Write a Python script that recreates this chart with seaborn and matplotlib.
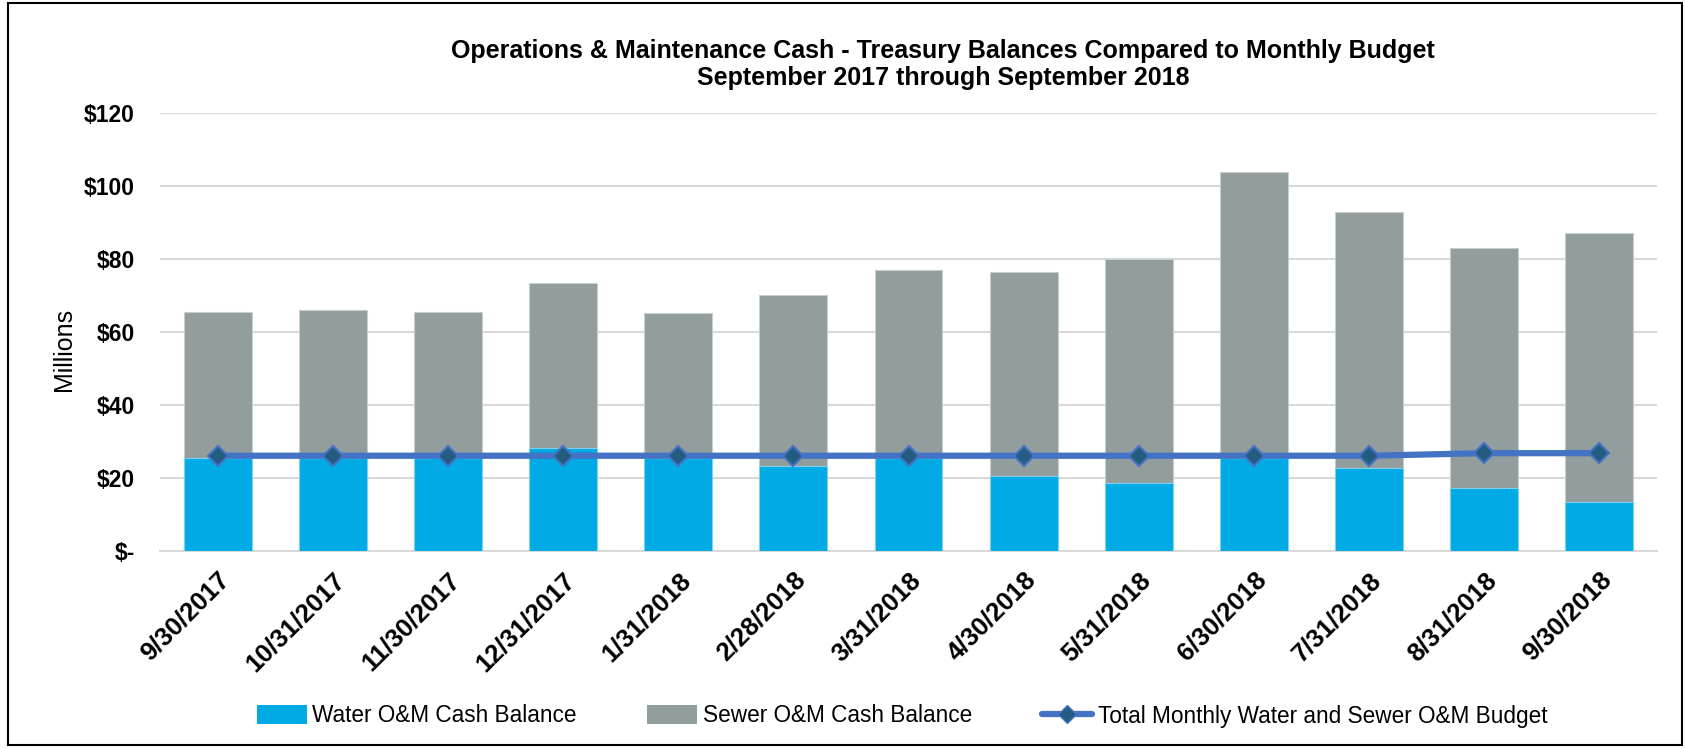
import matplotlib
matplotlib.use("Agg")
import matplotlib.pyplot as plt
import seaborn as sns
import numpy as np
import pandas as pd
from matplotlib.patches import Patch, Rectangle
from matplotlib.lines import Line2D
from matplotlib.ticker import FixedLocator, FuncFormatter

dates = ["9/30/2017", "10/31/2017", "11/30/2017", "12/31/2017", "1/31/2018", "2/28/2018",
         "3/31/2018", "4/30/2018", "5/31/2018", "6/30/2018", "7/31/2018", "8/31/2018", "9/30/2018"]
water = [25.4, 25.4, 25.4, 28.3, 25.4, 23.3, 25.4, 20.6, 18.6, 25.6, 22.8, 17.2, 13.5]
sewer = [40.2, 40.7, 40.2, 45.1, 39.7, 46.9, 51.5, 55.8, 61.4, 78.2, 70.0, 65.9, 73.7]
budget = [26.1, 26.1, 26.1, 26.1, 26.1, 26.1, 26.1, 26.1, 26.1, 26.1, 26.1, 26.8, 26.8]

df = pd.DataFrame({"date": dates, "water": water, "sewer": sewer, "budget": budget})
df["total"] = df["water"] + df["sewer"]

sns.set_style("white")
plt.rcParams["font.family"] = ["Liberation Sans", "DejaVu Sans"]
plt.rcParams["text.color"] = "black"
plt.rcParams["xtick.labelcolor"] = "black"
plt.rcParams["ytick.labelcolor"] = "black"
plt.rcParams["axes.labelcolor"] = "black"

WATER_C = "#00AAE4"
SEWER_C = "#929E9D"
LINE_C = "#4472C4"
MARK_C = "#245C80"

fig = plt.figure(figsize=(16.85, 7.48), dpi=100)
ax = fig.add_axes([160/1685, 1-551/748, (1657-160)/1685, (551-113)/748])

sns.barplot(data=df, x="date", y="total", color=SEWER_C, width=0.59, ax=ax,
            saturation=1, edgecolor="#C8CCCC", linewidth=0.8, zorder=2)
sns.barplot(data=df, x="date", y="water", color=WATER_C, width=0.59, ax=ax,
            saturation=1, edgecolor="#7FD0EE", linewidth=0.8, zorder=3)
xs = np.arange(len(dates))
sns.lineplot(x=xs, y=df["budget"].values, ax=ax, color=LINE_C, linewidth=4.5,
             marker="D", markersize=10, markerfacecolor=MARK_C, markeredgecolor=LINE_C,
             markeredgewidth=1.5, zorder=4)

ax.set_xlim(-0.5, len(dates) - 0.5)
ax.set_ylim(0, 120)
ax.set_yticks([0, 20, 40, 60, 80, 100, 120])
ax.yaxis.set_major_formatter(FuncFormatter(lambda v, p: "$-" if v == 0 else f"${int(v)}"))
ax.grid(axis="y", color="#D9D9D9", linewidth=1.5, zorder=0)
ax.set_axisbelow(True)
for s in ["left", "right", "top"]:
    ax.spines[s].set_visible(False)
ax.spines["bottom"].set_color("#D9D9D9")
ax.spines["bottom"].set_linewidth(1.5)
ax.spines["bottom"].set_zorder(1)

ax.set_xticks(xs)
ax.set_xticklabels(dates, rotation=45, ha="right", va="top", rotation_mode="anchor",
                   fontsize=18.5, fontweight="bold", color="black")
ax.tick_params(axis="x", which="major", length=0, pad=12)
ax.xaxis.set_minor_locator(FixedLocator(np.arange(-0.5, len(dates), 1.0)))
ax.tick_params(axis="x", which="minor", length=7, width=1.5, color="#D9D9D9", direction="out")
ax.tick_params(axis="y", length=0, pad=18, labelsize=16.5, labelcolor="black")
for lab in ax.get_yticklabels():
    lab.set_fontweight("bold")
ax.set_xlabel("")
ax.set_ylabel("")

fig.text(64/1685, 1-349/748, "Millions", rotation=90, ha="center", va="center",
         fontsize=18, color="black")

fig.text(943/1685, 1-51/748, "Operations & Maintenance Cash - Treasury Balances Compared to Monthly Budget",
         ha="center", va="center", fontsize=18, fontweight="bold", color="black")
fig.text(943/1685, 1-78/748, "September 2017 through September 2018",
         ha="center", va="center", fontsize=18, fontweight="bold", color="black")

handles = [Patch(facecolor=WATER_C, edgecolor="none"),
           Patch(facecolor=SEWER_C, edgecolor="none"),
           Line2D([0], [0], color=LINE_C, linewidth=4.5, marker="D", markersize=9,
                  markerfacecolor=MARK_C, markeredgecolor=LINE_C)]
labels = ["Water O&M Cash Balance", "Sewer O&M Cash Balance",
          "Total Monthly Water and Sewer O&M Budget"]
leg = fig.legend(handles, labels, loc="center", bbox_to_anchor=(902/1685, 1-716/748), ncol=3,
                 frameon=False, fontsize=16.3, handlelength=2.2, handleheight=0.9,
                 handletextpad=0.25, columnspacing=3.1)
for t in leg.get_texts():
    t.set_color("black")

fig.patches.append(Rectangle((0.005, 0.004), 0.993, 0.992, transform=fig.transFigure,
                             fill=False, edgecolor="black", linewidth=1.5))

fig.savefig("out.png", dpi=100)
